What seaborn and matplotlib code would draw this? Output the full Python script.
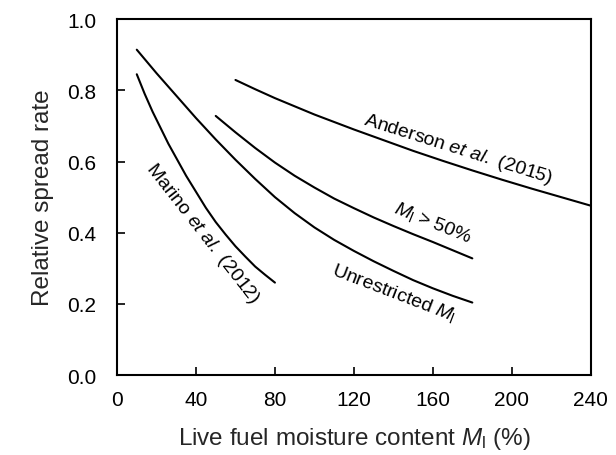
import numpy as np
import pandas as pd
import matplotlib
matplotlib.use("Agg")
import matplotlib.pyplot as plt
import seaborn as sns

# values
marino_x = [10, 14, 18, 22, 26, 30, 35, 40, 45, 50, 55, 60, 65, 70, 75, 80]
marino_y = [0.845, 0.79, 0.74, 0.695, 0.65, 0.61, 0.56, 0.515, 0.47, 0.43,
            0.395, 0.362, 0.333, 0.305, 0.282, 0.26]

unrestricted_x = [10, 20, 30, 40, 50, 60, 70, 80, 90, 100, 110, 120, 130, 140, 150, 160, 170, 180]
unrestricted_y = [0.914, 0.848, 0.785, 0.722, 0.662, 0.605, 0.551, 0.500, 0.455, 0.415,
                  0.380, 0.349, 0.320, 0.293, 0.267, 0.244, 0.223, 0.204]

above50_x = [50, 60, 70, 80, 90, 100, 110, 120, 130, 140, 150, 160, 170, 180]
above50_y = [0.728, 0.682, 0.638, 0.597, 0.560, 0.527, 0.496, 0.469, 0.443, 0.419,
             0.396, 0.374, 0.351, 0.328]

anderson_x = [60, 70, 80, 90, 100, 110, 120, 135, 150, 165, 180, 195, 210, 225, 240]
anderson_y = [0.829, 0.803, 0.778, 0.755, 0.732, 0.711, 0.690, 0.660, 0.630, 0.602,
              0.575, 0.549, 0.524, 0.500, 0.476]

x_ticks = [0, 40, 80, 120, 160, 200, 240]
y_ticks = [0.0, 0.2, 0.4, 0.6, 0.8, 1.0]

curves = {
    "Marino": (marino_x, marino_y),
    "Unrestricted": (unrestricted_x, unrestricted_y),
    "Above50": (above50_x, above50_y),
    "Anderson": (anderson_x, anderson_y),
}
df = pd.concat(
    [pd.DataFrame({"M": xs, "R": ys, "curve": name}) for name, (xs, ys) in curves.items()],
    ignore_index=True,
)

sns.set_theme(style="ticks")
plt.rcParams["font.family"] = ["Liberation Sans", "DejaVu Sans"]
plt.rcParams["mathtext.fontset"] = "custom"
plt.rcParams["mathtext.rm"] = "Liberation Sans"
plt.rcParams["mathtext.it"] = "Liberation Sans:italic"

fig = plt.figure(figsize=(6.16, 4.56), dpi=100)
ax = fig.add_axes([0.19, 0.175, 0.769, 0.781])

sns.lineplot(data=df, x="M", y="R", units="curve", estimator=None,
             color="black", linewidth=1.5, ax=ax)

ax.set_xlim(0, 240)
ax.set_ylim(0, 1.0)
ax.set_xticks(x_ticks)
ax.set_yticks(y_ticks)
ax.set_yticklabels([f"{v:.1f}" for v in y_ticks])
ax.tick_params(direction="in", length=6, width=1.2, labelsize=15, colors="black",
               top=False, right=False)
ax.tick_params(axis="x", pad=11)
ax.tick_params(axis="y", pad=15)
for s in ax.spines.values():
    s.set_visible(True)
    s.set_linewidth(1.5)
    s.set_color("black")

ax.set_xlabel(r"Live fuel moisture content $\it{M}_\mathrm{l}$ (%)", fontsize=17.5, labelpad=11)
ax.set_ylabel("Relative spread rate", fontsize=17.5, labelpad=9)

lbl = dict(ha="center", va="center", rotation_mode="anchor", fontsize=14, color="black")
ax.text(173, 0.635, r"Anderson $\it{et\ al.}$ (2015)", rotation=-17.5, **lbl)
ax.text(160, 0.43, r"$\it{M}_\mathrm{l}$ > 50%", rotation=-22, **lbl)
ax.text(140, 0.233, r"Unrestricted $\it{M}_\mathrm{l}$", rotation=-21, **lbl)
ax.text(43.5, 0.40, r"Marino $\it{et\ al.}$ (2012)", rotation=-52, **lbl)

fig.savefig("out.png", dpi=100)
